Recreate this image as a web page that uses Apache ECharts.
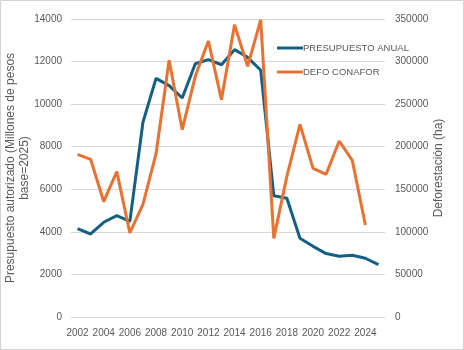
<!DOCTYPE html>
<html>
<head>
<meta charset="utf-8">
<script src="https://cdn.jsdelivr.net/npm/echarts@6/dist/echarts.min.js"></script>
<style>
  html, body { margin: 0; padding: 0; background: #fff; }
  #chart { width: 464px; height: 350px; }
</style>
</head>
<body>
<div id="chart"></div>
<script>
// años (eje x)
var years = ['2002', '2003', '2004', '2005', '2006', '2007', '2008', '2009', '2010', '2011', '2012', '2013',
  '2014', '2015', '2016', '2017', '2018', '2019', '2020', '2021', '2022', '2023', '2024', '2025'];

// presupuesto autorizado, millones de pesos base=2025 (eje izquierdo)
var presupuesto = [4150, 3900, 4450, 4760, 4490, 9150, 11210, 10870, 10290, 11900, 12090, 11850,
  12560, 12200, 11590, 5700, 5580, 3700, 3320, 2980, 2850, 2900, 2760, 2460];

// deforestación CONAFOR, ha (eje derecho) - sin dato 2025
var defo = [191000, 185200, 135500, 170700, 98700, 132300, 191800, 301500, 220000, 282700, 324200, 255300,
  343300, 294400, 349000, 92400, 165200, 226300, 174600, 167600, 206700, 184000, 108000, null];

var leftTicks = { min: 0, max: 14000, interval: 2000 };
var rightTicks = { min: 0, max: 350000, interval: 50000 };

var gris = '#595959';
var myChart = echarts.init(document.getElementById('chart'));

var option = {
  animation: false,
  backgroundColor: '#fff',
  textStyle: { fontFamily: 'Liberation Sans' },
  graphic: [{
    type: 'rect',
    shape: { x: 0.5, y: 0.5, width: 463, height: 349 },
    style: { fill: 'none', stroke: '#d4d4d4', lineWidth: 1 },
    silent: true
  }],
  grid: {
    left: 71,
    right: 79,
    top: 19,
    bottom: 33,
    containLabel: false,
    outerBoundsMode: 'none'
  },
  legend: {
    orient: 'vertical',
    left: 277,
    top: 43,
    padding: 0,
    itemWidth: 26,
    itemHeight: 3,
    itemGap: 14,
    icon: 'rect',
    textStyle: { color: gris, fontSize: 9.5, padding: [0, 0, 0, -5] },
    data: ['PRESUPUESTO ANUAL', 'DEFO CONAFOR']
  },
  xAxis: {
    type: 'category',
    data: years,
    boundaryGap: true,
    axisLine: { show: true, lineStyle: { color: '#d9d9d9' } },
    axisTick: { show: false },
    axisLabel: { interval: 1, color: gris, fontSize: 10, margin: 11 }
  },
  yAxis: [{
    type: 'value',
    min: leftTicks.min,
    max: leftTicks.max,
    interval: leftTicks.interval,
    name: 'Presupuesto autorizado (Millones de pesos\nbase=2025)',
    nameLocation: 'middle',
    nameRotate: 90,
    nameGap: 39,
    nameMoveOverlap: false,
    nameTextStyle: { color: gris, fontSize: 12, lineHeight: 14 },
    axisLine: { show: false },
    axisTick: { show: false },
    axisLabel: { color: gris, fontSize: 10, margin: 9, formatter: function (v) { return String(v); } },
    splitLine: { lineStyle: { color: '#d9d9d9', width: 1 } }
  }, {
    type: 'value',
    min: rightTicks.min,
    max: rightTicks.max,
    interval: rightTicks.interval,
    position: 'right',
    name: 'Deforestación (ha)',
    nameLocation: 'middle',
    nameRotate: 90,
    nameGap: 48,
    nameMoveOverlap: false,
    nameTextStyle: { color: gris, fontSize: 12 },
    axisLine: { show: false },
    axisTick: { show: false },
    axisLabel: { color: gris, fontSize: 10, margin: 10, formatter: function (v) { return String(v); } },
    splitLine: { show: false }
  }],
  series: [{
    name: 'PRESUPUESTO ANUAL',
    type: 'line',
    yAxisIndex: 0,
    data: presupuesto,
    showSymbol: false,
    symbol: 'none',
    lineStyle: { color: '#156082', width: 3 },
    itemStyle: { color: '#156082' }
  }, {
    name: 'DEFO CONAFOR',
    type: 'line',
    yAxisIndex: 1,
    data: defo,
    showSymbol: false,
    symbol: 'none',
    lineStyle: { color: '#E97132', width: 3 },
    itemStyle: { color: '#E97132' }
  }]
};

myChart.setOption(option);
</script>
</body>
</html>
